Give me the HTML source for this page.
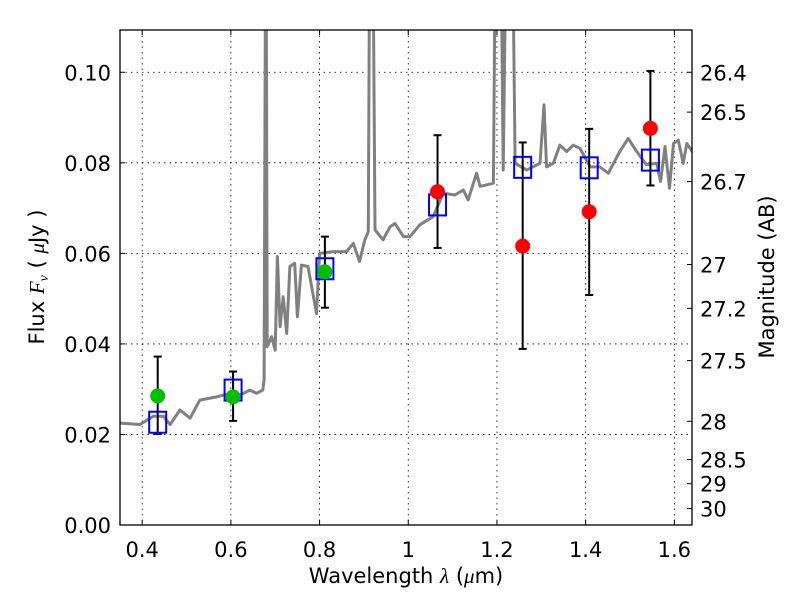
<!DOCTYPE html>
<html><head><meta charset="utf-8"><style>
html,body{margin:0;padding:0;background:#fff}
svg{display:block;font-family:"DejaVu Sans","Liberation Sans",sans-serif}
</style></head><body>
<svg id="chart" width="800" height="600" viewBox="0 0 800 600">
<defs><clipPath id="clip"><rect x="120" y="30" width="572" height="495"/></clipPath></defs>
<rect width="800" height="600" fill="#fff"/>
<g id="grid"></g>
<g id="plot" clip-path="url(#clip)"></g>
<g id="marks"></g>
<rect x="120" y="30" width="572" height="495" fill="none" stroke="#000" stroke-width="1.3"/>
<g id="axes"></g>
<text x="406" y="583" font-size="21" text-anchor="middle">Wavelength  <tspan font-family="'Liberation Serif',serif" font-style="italic">λ</tspan> (<tspan font-family="'Liberation Serif',serif" font-style="italic">μ</tspan>m)</text>
<text transform="translate(44,277) rotate(-90)" font-size="21" text-anchor="middle">Flux  <tspan font-family="'Liberation Serif',serif" font-style="italic">F</tspan><tspan font-family="'Liberation Serif',serif" font-style="italic" font-size="14" dy="4">ν</tspan><tspan dy="-4">  (  </tspan><tspan font-family="'Liberation Serif',serif" font-style="italic">μ</tspan>Jy )</text>
<text transform="translate(774,277) rotate(-90)" font-size="21" text-anchor="middle">Magnitude (AB)</text>
</svg>
<script>
const specWl=[0.35,0.395,0.425,0.448,0.463,0.485,0.508,0.530,0.568,0.598,0.62,0.643,0.658,0.672,0.675,0.679,0.682,0.692,0.70,0.705,0.711,0.718,0.726,0.733,0.744,0.75,0.759,0.774,0.793,0.80,0.831,0.861,0.876,0.89,0.902,0.91,0.914,0.919,0.925,0.943,0.959,0.97,0.989,1.004,1.026,1.056,1.079,1.105,1.124,1.135,1.154,1.162,1.192,1.198,1.207,1.214,1.223,1.233,1.241,1.267,1.297,1.306,1.312,1.327,1.342,1.357,1.372,1.387,1.410,1.432,1.451,1.477,1.496,1.515,1.537,1.560,1.569,1.579,1.589,1.598,1.609,1.620,1.628,1.643];
const specFlux=[0.0225,0.0222,0.0240,0.0240,0.0222,0.0254,0.0236,0.0276,0.0283,0.0291,0.0287,0.0298,0.0291,0.0298,0.0320,0.15,0.0394,0.0416,0.0386,0.0593,0.0438,0.0504,0.0423,0.0571,0.0578,0.0460,0.0574,0.0571,0.0467,0.0600,0.0604,0.0604,0.0622,0.0582,0.0630,0.0648,0.15,0.15,0.0652,0.0630,0.0659,0.0666,0.0637,0.0637,0.0663,0.0681,0.0733,0.0729,0.0740,0.0718,0.0777,0.0748,0.0755,0.15,0.15,0.0784,0.15,0.15,0.0799,0.0784,0.0799,0.0928,0.0791,0.0799,0.0839,0.0825,0.0839,0.0832,0.0791,0.0791,0.0777,0.0825,0.0854,0.0825,0.0796,0.0799,0.0759,0.0836,0.0744,0.0843,0.0850,0.0799,0.0843,0.0821];
const modelWl=[0.435,0.605,0.812,1.066,1.258,1.408,1.546];
const modelFlux=[0.0227,0.0298,0.0566,0.0707,0.0790,0.0789,0.0806];
const greenWl=[0.435,0.605,0.812];
const greenFlux=[0.0285,0.0283,0.0559];
const greenLo=[0.0201,0.0230,0.0480];
const greenHi=[0.0372,0.0339,0.0637];
const redWl=[1.066,1.258,1.408,1.546];
const redFlux=[0.0736,0.0616,0.0692,0.0876];
const redLo=[0.0612,0.0389,0.0508,0.0750];
const redHi=[0.0861,0.0845,0.0875,0.1003];
const xTicks=[0.4,0.6,0.8,1.0,1.2,1.4,1.6];
const xTickLabels=["0.4","0.6","0.8","1","1.2","1.4","1.6"];
const yTicks=[0,0.02,0.04,0.06,0.08,0.10];
const yTickLabels=["0.00","0.02","0.04","0.06","0.08","0.10"];
const magTicks=[26.4,26.5,26.7,27,27.2,27.5,28,28.5,29,30];

const X0=120,X1=692,Y0=525,Y1=30,xmin=0.35,xmax=1.6398,ymin=0,ymax=0.10934;
const xs=v=>X0+(v-xmin)/(xmax-xmin)*(X1-X0);
const ys=v=>Y0-(v-ymin)/(ymax-ymin)*(Y0-Y1);
const NS="http://www.w3.org/2000/svg";
function mk(tag,parent,at){const e=document.createElementNS(NS,tag);for(const k in at)e.setAttribute(k,at[k]);parent.appendChild(e);return e;}
const grid=document.getElementById('grid'),plot=document.getElementById('plot'),marks=document.getElementById('marks'),axes=document.getElementById('axes');

xTicks.forEach((t,i)=>{const x=xs(t);
 let g=mk('line',grid,{x1:x,x2:x,y1:Y1,y2:Y0,stroke:'#000','stroke-width':0.8,'stroke-dasharray':'1.5,4'});
 
 mk('line',axes,{x1:x,x2:x,y1:Y0,y2:Y0-5,stroke:'#000','stroke-width':1});
 mk('line',axes,{x1:x,x2:x,y1:Y1,y2:Y1+5,stroke:'#000','stroke-width':1});
 const tx=mk('text',axes,{x:x,y:557,'font-size':21,'text-anchor':'middle'});tx.textContent=xTickLabels[i];
 
});
yTicks.forEach((t,i)=>{const y=ys(t);
 let g=mk('line',grid,{x1:X0,x2:X1,y1:y,y2:y,stroke:'#000','stroke-width':0.8,'stroke-dasharray':'1.5,4'});
 
 mk('line',axes,{x1:X0,x2:X0+5,y1:y,y2:y,stroke:'#000','stroke-width':1});
 const tx=mk('text',axes,{x:111,y:y+8,'font-size':21,'text-anchor':'end'});tx.textContent=yTickLabels[i];
 
});
magTicks.forEach(m=>{const f=Math.pow(10,(23.9-m)/2.5);const y=ys(f);
 mk('line',axes,{x1:X1,x2:X1-5,y1:y,y2:y,stroke:'#000','stroke-width':1});
 const tx=mk('text',axes,{x:700,y:y+8,'font-size':21});tx.textContent=String(m);
 
});

const pts=specWl.map((w,i)=>xs(w).toFixed(1)+','+ys(specFlux[i]).toFixed(1)).join(' ');
const sp=mk('polyline',plot,{points:pts,fill:'none',stroke:'#808080','stroke-width':3,'stroke-linejoin':'round'});


function errbar(w,lo,hi){const x=xs(w);
 const g=mk('g',marks,{});
 
 mk('line',g,{x1:x,x2:x,y1:ys(lo),y2:ys(hi),stroke:'#000','stroke-width':2});
 mk('line',g,{x1:x-4,x2:x+4,y1:ys(lo),y2:ys(lo),stroke:'#000','stroke-width':2});
 mk('line',g,{x1:x-4,x2:x+4,y1:ys(hi),y2:ys(hi),stroke:'#000','stroke-width':2});}
greenWl.forEach((w,i)=>errbar(w,greenLo[i],greenHi[i]));
redWl.forEach((w,i)=>errbar(w,redLo[i],redHi[i]));
modelWl.forEach((w,i)=>{const r=mk('rect',marks,{x:xs(w)-8.5,y:ys(modelFlux[i])-10.5,width:17,height:21,fill:'none',stroke:'#0000ff','stroke-width':2});
 });
greenWl.forEach((w,i)=>{const c=mk('circle',marks,{cx:xs(w),cy:ys(greenFlux[i]),r:7.5,fill:'#00bf00'});
 });
redWl.forEach((w,i)=>{const c=mk('circle',marks,{cx:xs(w),cy:ys(redFlux[i]),r:7.5,fill:'#ff0000'});
 });
</script>
</body></html>
